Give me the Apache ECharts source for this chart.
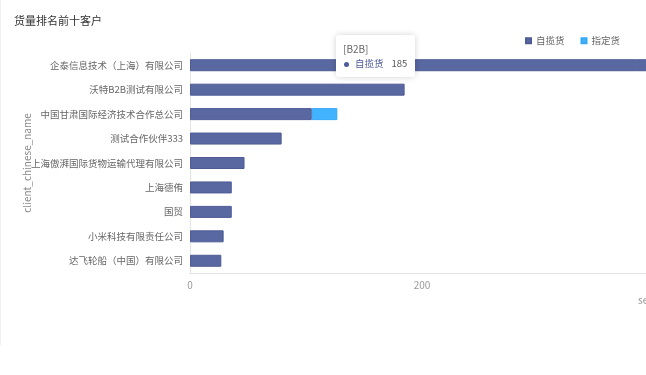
<!DOCTYPE html>
<html><head><meta charset="utf-8">
<script src="https://cdn.jsdelivr.net/npm/echarts@6/dist/echarts.min.js"></script>
<style>
html,body{margin:0;padding:0;background:#fff;overflow:hidden;width:646px;height:375px;}
#wrap{position:absolute;left:0;top:0;width:646px;height:345px;overflow:hidden;border-left:1px solid #f0f0f0;box-sizing:border-box;}
#chart{position:absolute;left:-1px;top:0;width:1200px;height:345px;}
</style></head>
<body><div id="wrap"><div id="chart"></div></div>
<script>
const categories = ['企泰信息技术（上海）有限公司','沃特B2B测试有限公司','中国甘肃国际经济技术合作总公司','测试合作伙伴333','上海傲湃国际货物运输代理有限公司','上海德侑','国贸','小米科技有限责任公司','达飞轮船（中国）有限公司'];
const selfPick = [770, 185, 105, 79, 47, 36, 36, 29, 27];
const assigned = ['-', '-', 22, '-', '-', '-', '-', '-', '-'];
const seriesNames = ['自揽货','指定货'];
const xTicks = [0, 200, 400, 600, 800];

const chart = echarts.init(document.getElementById('chart'), null, {renderer:'canvas'});
const font = '"Microsoft YaHei","Noto Sans CJK SC",sans-serif';
const cssFont = font.replace(/"/g,"'");
chart.setOption({
  animation:false,
  textStyle:{fontFamily:font},
  title:{text:'货量排名前十客户',left:9,top:10,textStyle:{fontSize:11,fontWeight:'normal',color:'#333',fontFamily:font}},
  legend:{data:seriesNames,left:520,top:31,itemWidth:5,itemHeight:5,itemGap:16,icon:'rect',
    textStyle:{color:'#666',fontSize:9.5,fontFamily:font}},
  tooltip:{trigger:'item',alwaysShowContent:true,position:[336,35],
    backgroundColor:'#fff',borderWidth:0,padding:[6,8,6,7],
    extraCssText:'box-shadow:0 0 6px rgba(0,0,0,0.18);border-radius:3px;',
    formatter:function(p){
      return '<div style="font-size:10px;color:#666;line-height:15px;font-family:'+cssFont+'">[B2B]</div>'+
        '<div style="font-size:9.5px;line-height:15px;font-family:'+cssFont+'"><span style="display:inline-block;width:5px;height:5px;border-radius:3px;background:#4e5b99;margin:0 6px 0 1px;vertical-align:middle"></span><span style="color:#4e5b99">'+p.seriesName+'</span><span style="color:#555;margin-left:8px">'+p.value+'</span></div>';
    }},
  grid:{left:190,right:82,top:53,bottom:72,outerBoundsMode:'none',containLabel:false},
  xAxis:{type:'value',min:0,max:800,interval:200,name:'sender',nameLocation:'middle',nameGap:22,nameMoveOverlap:false,
    nameTextStyle:{color:'#999',fontSize:10},
    axisLine:{show:true,lineStyle:{color:'#e3e3e3'}},axisTick:{show:false},
    splitLine:{show:false},axisLabel:{color:'#999',fontSize:10,margin:7}},
  yAxis:{type:'category',data:categories,inverse:true,name:'client_chinese_name',nameLocation:'middle',nameGap:158,nameMoveOverlap:false,
    nameTextStyle:{color:'#888',fontSize:10},
    axisLine:{show:true,lineStyle:{color:'#e3e3e3'}},axisTick:{show:false},
    axisLabel:{color:'#666',fontSize:9.5,margin:7}},
  series:[
    {name:seriesNames[0],type:'bar',stack:'a',data:selfPick,barWidth:12,
      itemStyle:{color:'#5a68a2',borderColor:'#4e5b95',borderWidth:1}},
    {name:seriesNames[1],type:'bar',stack:'a',data:assigned,barWidth:12,
      itemStyle:{color:'#41b3ff',borderColor:'#36a8f5',borderWidth:1}}
  ],
  color:['#4e5b99','#3db5ff']
});
chart.dispatchAction({type:'showTip',seriesIndex:0,dataIndex:1});
</script></body></html>
